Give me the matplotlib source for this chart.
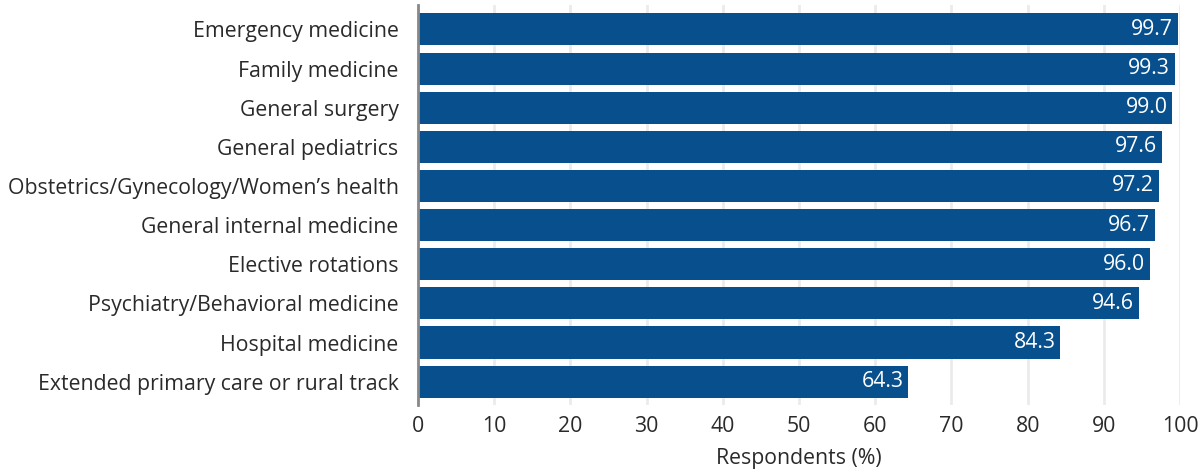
import matplotlib.pyplot as plt
import numpy as np

# Data
categories = [
    "Emergency medicine",
    "Family medicine",
    "General surgery",
    "General pediatrics",
    "Obstetrics/Gynecology/Women\u2019s health",
    "General internal medicine",
    "Elective rotations",
    "Psychiatry/Behavioral medicine",
    "Hospital medicine",
    "Extended primary care or rural track",
]
values = [99.7, 99.3, 99.0, 97.6, 97.2, 96.7, 96.0, 94.6, 84.3, 64.3]
x_ticks = list(range(0, 101, 10))

plt.rcParams['font.family'] = ['Open Sans', 'DejaVu Sans']

bar_color = "#074f8d"
text_color = "#2a2a2a"
fs = 15.3
fig = plt.figure(figsize=(11.99, 4.70), dpi=100)
ax = fig.add_axes([0.3486, 0.138, 0.6356, 0.851])

y = np.arange(len(categories))[::-1]
ax.barh(y, values, height=0.82, color=bar_color, zorder=3)

# Value labels inside the bar ends
for yi, v in zip(y, values):
    ax.text(v - 0.6, yi, f"{v:.1f}", color="white", ha="right", va="center",
            fontsize=fs, zorder=4)

ax.set_yticks(y)
ax.set_yticklabels(categories, fontsize=fs, color=text_color)
ax.set_xticks(x_ticks)
ax.set_xticklabels([str(t) for t in x_ticks], fontsize=fs, color=text_color)
ax.set_xlim(0, 100)
ax.set_ylim(-0.6, 9.62)
ax.tick_params(axis='y', length=0, pad=14)
ax.tick_params(axis='x', length=0, pad=8)

ax.grid(axis='x', color="#ebebeb", linewidth=2, zorder=0)
ax.set_axisbelow(True)
for s in ["top", "right", "bottom"]:
    ax.spines[s].set_visible(False)
ax.spines["left"].set_color("#888888")
ax.spines["left"].set_linewidth(2)
ax.spines["left"].set_zorder(5)

ax.set_xlabel("Respondents (%)", fontsize=fs, color=text_color, labelpad=8)

fig.savefig("out.png", dpi=100)
